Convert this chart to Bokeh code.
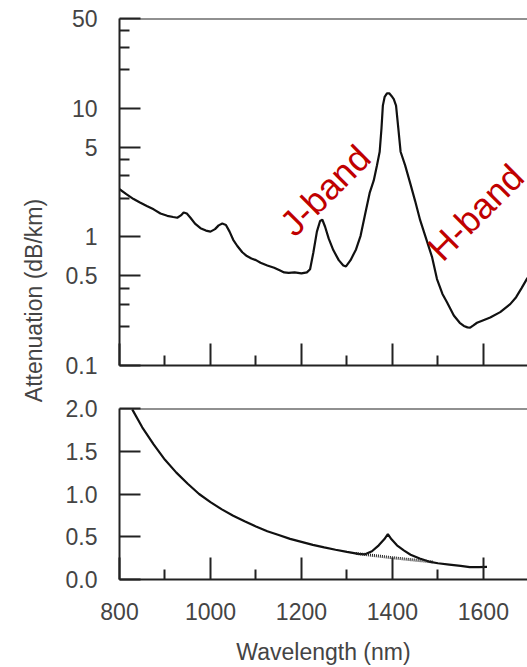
from math import pi
from bokeh.plotting import figure
from bokeh.layouts import row, column
from bokeh.models import Range1d, FixedTicker, CustomJSTickFormatter, Label, Span
from bokeh.embed import file_html
from bokeh.resources import INLINE

# ---- data ----
top_nm = [800, 815, 831, 845, 860, 875, 890, 905, 918, 927, 935, 941, 948, 956, 966, 978, 990,
          1000, 1010, 1018, 1026, 1034, 1042, 1050, 1059, 1070, 1080, 1090, 1100, 1110, 1125,
          1140, 1152, 1162, 1172, 1185, 1200, 1212, 1219, 1226, 1234, 1241, 1246, 1252, 1260,
          1270, 1282, 1292, 1298, 1308, 1320, 1330, 1340, 1350, 1359, 1366, 1372, 1376, 1379,
          1383, 1388, 1393, 1398, 1403, 1408, 1413, 1418, 1428, 1440, 1450, 1461, 1475, 1487,
          1498, 1510, 1520, 1535, 1548, 1557, 1565, 1571, 1578, 1586, 1600, 1615, 1637, 1659,
          1672, 1684, 1697]
top_att = [2.35, 2.15, 1.97, 1.85, 1.74, 1.64, 1.52, 1.46, 1.43, 1.41, 1.47, 1.55, 1.52, 1.41,
           1.27, 1.17, 1.12, 1.10, 1.15, 1.23, 1.27, 1.24, 1.10, 0.95, 0.85, 0.76, 0.71, 0.68,
           0.66, 0.63, 0.60, 0.575, 0.55, 0.53, 0.525, 0.53, 0.52, 0.53, 0.56, 0.75, 1.10, 1.33,
           1.36, 1.20, 0.97, 0.79, 0.66, 0.60, 0.59, 0.66, 0.80, 1.02, 1.50, 2.20, 2.75, 3.6,
           4.6, 7.0, 10.5, 12.3, 13.1, 13.1, 12.5, 11.8, 10.5, 7.0, 4.6, 3.6, 2.55, 1.90, 1.35,
           0.95, 0.70, 0.47, 0.36, 0.31, 0.245, 0.215, 0.203, 0.198, 0.197, 0.205, 0.215, 0.225,
           0.236, 0.26, 0.30, 0.34, 0.40, 0.48]

bot_nm = [828, 850, 875, 900, 925, 950, 975, 1000, 1025, 1050, 1075, 1100, 1125, 1150, 1175,
          1200, 1225, 1250, 1275, 1300, 1325, 1340, 1355, 1370, 1382, 1390, 1398, 1410, 1425,
          1440, 1460, 1480, 1500, 1525, 1550, 1570, 1590, 1608]
bot_att = [1.99, 1.78, 1.58, 1.40, 1.25, 1.12, 1.00, 0.905, 0.82, 0.745, 0.68, 0.62, 0.565,
           0.52, 0.475, 0.44, 0.405, 0.375, 0.348, 0.323, 0.30, 0.295, 0.33, 0.40, 0.47, 0.53,
           0.47, 0.40, 0.34, 0.29, 0.245, 0.21, 0.19, 0.175, 0.16, 0.145, 0.145, 0.148]

base_nm = [1320, 1360, 1400, 1440, 1490]
base_att = [0.305, 0.28, 0.255, 0.232, 0.205]

x_major = [800, 1000, 1200, 1400, 1600]
x_minor = [900, 1100, 1300, 1500]
top_major = [0.1, 0.5, 1, 5, 10, 50]
top_minor = [0.2, 0.3, 0.4, 2, 3, 4, 20, 30, 40]
bot_major = [0.0, 0.5, 1.0, 1.5, 2.0]

FONT = "Liberation Sans"
TXT = "#444444"
AX = "#222222"

xr = Range1d(800, 1697)


def style_x(ax, labels):
    ax.ticker = FixedTicker(ticks=x_major, minor_ticks=x_minor)
    ax.major_tick_in = 22
    ax.major_tick_out = 0
    ax.minor_tick_in = 10
    ax.minor_tick_out = 0
    ax.axis_line_width = 2
    ax.axis_line_color = AX
    ax.major_tick_line_width = 2
    ax.minor_tick_line_width = 2
    ax.major_tick_line_color = AX
    ax.minor_tick_line_color = AX
    ax.major_label_text_font = FONT
    ax.major_label_text_color = TXT
    ax.major_label_text_font_size = "23px"
    if labels:
        ax.formatter = CustomJSTickFormatter(
            code="return tick <= 1600 ? tick.toString() : '';")
        ax.major_label_standoff = 23
    else:
        ax.formatter = CustomJSTickFormatter(code="return '';")
        ax.major_label_standoff = 0


def style_y(ax, major, minor, fmt):
    ax.ticker = FixedTicker(ticks=major, minor_ticks=minor)
    ax.major_tick_in = 21
    ax.major_tick_out = 0
    ax.minor_tick_in = 10
    ax.minor_tick_out = 0
    ax.axis_line_width = 2
    ax.axis_line_color = AX
    ax.major_tick_line_width = 2
    ax.minor_tick_line_width = 2
    ax.major_tick_line_color = AX
    ax.minor_tick_line_color = AX
    ax.major_label_text_font = FONT
    ax.major_label_text_font_size = "23px"
    ax.major_label_text_color = TXT
    ax.major_label_standoff = 22
    ax.formatter = CustomJSTickFormatter(code=fmt)


# ---- left label figure ----
lab = figure(width=55, height=667, x_range=(0, 1), y_range=(0, 1), output_backend="svg",
             toolbar_location=None, min_border=0, x_axis_location=None, y_axis_location=None,
             outline_line_color=None)
lab.grid.visible = False
lab.add_layout(Label(x=33, y=367, x_units="screen", y_units="screen", angle=pi / 2,
                     text="Attenuation (dB/km)", text_align="center", text_baseline="middle",
                     text_font=FONT, text_font_size="23px", text_color=TXT))

# ---- top panel ----
p1 = figure(width=472, height=385, x_range=xr, y_range=Range1d(0.1, 50), y_axis_type="log",
            output_backend="svg", toolbar_location=None, min_border_left=64,
            min_border_right=0, min_border_top=18, min_border_bottom=20,
            outline_line_color=None)
p1.grid.visible = False
style_x(p1.xaxis[0], False)
style_y(p1.yaxis[0], top_major, top_minor, "return tick.toString();")
p1.add_layout(Span(location=50, dimension="width", line_color=AX, line_width=2))
p1.line(top_nm, top_att, line_color="#111111", line_width=2.2)
p1.add_layout(Label(x=1252, y=2.3, text="J-band", angle=pi / 4, text_align="center",
                    text_baseline="middle", text_font=FONT, text_font_size="36px",
                    text_color="#c00000"))
p1.add_layout(Label(x=1583, y=1.55, text="H-band", angle=pi / 4, text_align="center",
                    text_baseline="middle", text_font=FONT, text_font_size="36px",
                    text_color="#c00000"))

# ---- bottom panel ----
p2 = figure(width=472, height=282, x_range=xr, y_range=Range1d(0, 2),
            output_backend="svg", toolbar_location=None, min_border_left=64,
            min_border_right=0, min_border_top=23, min_border_bottom=85,
            outline_line_color=None)
p2.grid.visible = False
style_x(p2.xaxis[0], True)
style_y(p2.yaxis[0], bot_major, [], "return tick.toFixed(1);")
p2.add_layout(Span(location=2.0, dimension="width", line_color=AX, line_width=2))
xa = p2.xaxis[0]
xa.axis_label = "Wavelength (nm)"
xa.axis_label_text_font = FONT
xa.axis_label_text_font_size = "23px"
xa.axis_label_text_font_style = "normal"
xa.axis_label_text_color = TXT
xa.axis_label_standoff = 16
p2.line(bot_nm, bot_att, line_color="#111111", line_width=2.2)
p2.line(base_nm, base_att, line_color="#222222", line_width=3, line_dash="1 1")

layout = row(lab, column(p1, p2))
open("out.html", "w").write(file_html(layout, INLINE))
